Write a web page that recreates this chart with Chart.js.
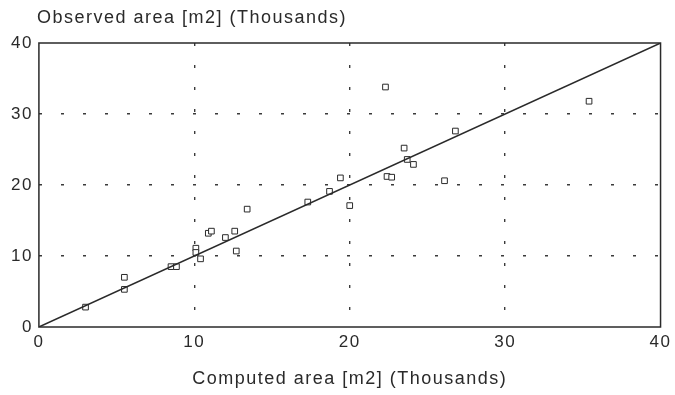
<!DOCTYPE html>
<html>
<head>
<meta charset="utf-8">
<script src="https://cdn.jsdelivr.net/npm/chart.js@4"></script>
<style>
  html, body { margin: 0; padding: 0; background: #fff; }
  #wrap { width: 675px; height: 395px; }
</style>
</head>
<body>
<div id="wrap"><canvas id="areaChart"></canvas></div>
<script>
// values, in thousands of m2
const computedArea = [3.0, 5.5, 5.5, 8.5, 8.85, 10.1, 10.1, 10.4, 10.9, 11.1, 12.0, 12.6, 12.7, 13.4,
  17.3, 18.7, 19.4, 20.0, 22.3, 22.4, 22.7, 23.5, 23.7, 24.1, 26.1, 26.8, 35.4];
const observedArea = [2.8, 7.0, 5.3, 8.5, 8.5, 11.1, 10.5, 9.6, 13.2, 13.5, 12.6, 13.5, 10.7, 16.6,
  17.6, 19.1, 21.0, 17.1, 33.8, 21.2, 21.1, 25.2, 23.6, 22.9, 20.6, 27.6, 31.8];
const lineX = [0, 40];
const lineY = [0, 40];
const axisTicks = [0, 10, 20, 30, 40];
const xTitle = 'Computed area [m2] (Thousands)';
const yTitle = 'Observed area [m2] (Thousands)';

const ink = '#2a2a2a';
const fontFamily = '"Liberation Sans", Arial, sans-serif';

const points = computedArea.map((x, i) => ({ x: x, y: observedArea[i] }));
const diagonal = lineX.map((x, i) => ({ x: x, y: lineY[i] }));

// frame round the plot area and the label above the y axis
const framePlugin = {
  id: 'frame',
  beforeDraw(chart) {
    chart.ctx.letterSpacing = '1.5px';
  },
  afterDraw(chart) {
    const { ctx, chartArea } = chart;
    ctx.save();
    ctx.strokeStyle = ink;
    ctx.lineWidth = 1.5;
    ctx.strokeRect(chartArea.left, chartArea.top, chartArea.right - chartArea.left, chartArea.bottom - chartArea.top);
    ctx.fillStyle = ink;
    ctx.font = '18px ' + fontFamily;
    ctx.textBaseline = 'middle';
    ctx.textAlign = 'left';
    ctx.fillText(yTitle, chartArea.left - 2, 18);
    ctx.restore();
  }
};

function gridColor(c) {
  const v = c.tick ? c.tick.value : 0;
  return (v === 0 || v === 40) ? 'rgba(0,0,0,0)' : '#3a3a3a';
}

new Chart(document.getElementById('areaChart'), {
  type: 'scatter',
  data: {
    datasets: [
      {
        type: 'line',
        data: diagonal,
        borderColor: ink,
        borderWidth: 1.5,
        pointRadius: 0,
        fill: false
      },
      {
        data: points,
        pointStyle: 'rect',
        pointRadius: 4,
        borderColor: ink,
        borderWidth: 1,
        backgroundColor: '#fff'
      }
    ]
  },
  options: {
    responsive: true,
    maintainAspectRatio: false,
    animation: false,
    layout: { padding: { top: 43, left: 8, right: 2, bottom: 5 } },
    plugins: {
      legend: { display: false },
      tooltip: { enabled: false }
    },
    scales: {
      x: {
        type: 'linear',
        min: 0,
        max: 40,
        afterBuildTicks: (axis) => { axis.ticks = axisTicks.map(v => ({ value: v })); },
        grid: { color: gridColor, lineWidth: 1.4, drawTicks: false },
        border: { display: false, dash: [3, 19] },
        ticks: { color: ink, font: { family: fontFamily, size: 17 }, padding: 5 },
        title: { display: true, text: xTitle, color: ink, font: { family: fontFamily, size: 18 }, padding: { top: 11, bottom: 0 } }
      },
      y: {
        type: 'linear',
        min: 0,
        max: 40,
        afterBuildTicks: (axis) => { axis.ticks = axisTicks.map(v => ({ value: v })); },
        grid: { color: gridColor, lineWidth: 1.4, drawTicks: false },
        border: { display: false, dash: [3, 19] },
        ticks: { color: ink, font: { family: fontFamily, size: 17 }, padding: 6 }
      }
    }
  },
  plugins: [framePlugin]
});
</script>
</body>
</html>
